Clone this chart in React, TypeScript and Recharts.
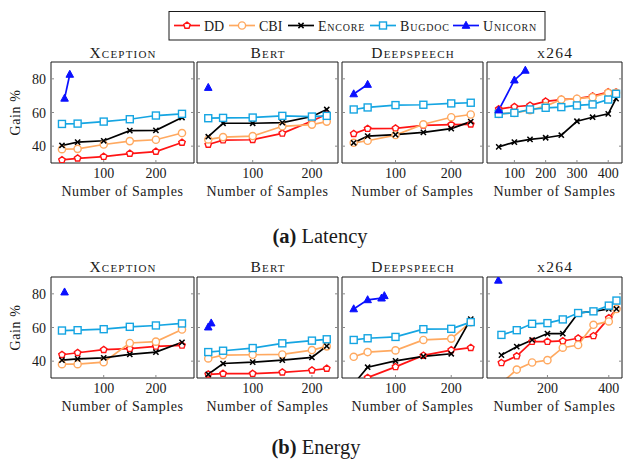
import { Label, Line, LineChart, XAxis, YAxis } from 'recharts';

const FONT = '"Liberation Serif", "Times New Roman", serif';
const INK = '#1a1a1a';
const TICK = '#8a8a8a';

// sample counts on the x axis, per subject system
const xceptionX = [20, 50, 100, 150, 200, 250];
const bertX = [25, 50, 100, 150, 200, 225];
const deepspeechX = [25, 50, 100, 150, 200, 235];
const x264X = [50, 100, 150, 200, 250, 300, 350, 400, 425];

// (a) latency gain %
const latXceptionDD = [31.8, 32.8, 33.8, 35.6, 36.8, 42.2];
const latXceptionCBI = [38.2, 38.4, 41, 43, 43.8, 47.8];
const latXceptionEncore = [40.4, 42.4, 43.2, 49.2, 49.4, 57];
const latXceptionBugdoc = [53.2, 53.4, 54.6, 56, 58.2, 59.2];
const latXceptionUnicornX = [25, 35];
const latXceptionUnicorn = [68.4, 82.6];

const latBertDD = [41, 43.6, 43.8, 47.6, 55, 59];
const latBertCBI = [44, 45.4, 46, 51.8, 52.8, 54.6];
const latBertEncore = [45.6, 53.6, 53.6, 54, 57.6, 61.8];
const latBertBugdoc = [56.6, 56.8, 57, 58, 57.6, 58];
const latBertUnicornX = [25];
const latBertUnicorn = [74.8];

const latDeepDD = [47.4, 50.4, 50.6, 52.4, 52.8, 53];
const latDeepCBI = [42, 43.2, 46.6, 53, 57.2, 58.8];
const latDeepEncore = [42, 46, 46.8, 48.2, 50.4, 54.6];
const latDeepBugdoc = [61.8, 63, 64.4, 64.6, 65.4, 65.8];
const latDeepUnicornX = [25, 50];
const latDeepUnicorn = [71, 76.6];

const latX264DD = [62, 63.4, 64.2, 66.6, 67.7, 68.2, 69.7, 72.1, 72];
const latX264CBI = [59.2, 59.8, 61.4, 63.8, 67.7, 68.2, 69.1, 71.7, 71.7];
const latX264Encore = [39.6, 42.4, 44, 45, 46.5, 54.8, 57.2, 59.2, 68.2];
const latX264Bugdoc = [59.2, 59.8, 61.8, 62.8, 63.2, 64.2, 64.8, 67.7, 71.1];
const latX264UnicornX = [50, 100, 135];
const latX264Unicorn = [61.4, 79.2, 85];

// (b) energy gain %
const enXceptionDD = [43.8, 45, 46.8, 47.4, 48.8, 49.4];
const enXceptionCBI = [38.2, 38.2, 39.4, 50.8, 51.6, 58.8];
const enXceptionEncore = [40.6, 41.4, 42, 44, 45.4, 51.2];
const enXceptionBugdoc = [58.2, 58.4, 59, 60.4, 61.2, 62.4];
const enXceptionUnicornX = [25];
const enXceptionUnicorn = [81];

const enBertDD = [32.2, 32.6, 32.6, 33.4, 34.6, 35.6];
const enBertCBI = [41.6, 43.6, 43.8, 44, 46.6, 48.8];
const enBertEncore = [32.2, 38.6, 39.4, 40.6, 42.2, 49];
const enBertBugdoc = [45.4, 46.2, 47.8, 50.6, 52.2, 53];
const enBertUnicornX = [25, 30];
const enBertUnicorn = [60.2, 62.6];

const enDeepDD = [null, 30.2, 36.6, 43.4, 46.6, 48];
const enDeepCBI = [42.6, 45.4, 46.4, 52.6, 53.4, 63.2];
const enDeepEncore = [26.5, 36.4, 40.2, 42.8, 44.4, 65];
const enDeepBugdoc = [52.6, 53.6, 54.4, 59, 59.2, 63.2];
const enDeepUnicornX = [25, 50, 75, 80];
const enDeepUnicorn = [71, 76.4, 77.4, 78.8];

const enX264DD = [39, 43, 51.6, 51.6, 52, 53.6, 55, 65.6, 71];
const enX264CBI = [27, 35, 39.2, 40.6, 48, 49.6, 61.6, 63.6, 71];
const enX264Encore = [43.6, 48.6, 52.6, 56.4, 56.4, 68.6, 69.6, 71, 71];
const enX264Bugdoc = [55.6, 58.4, 62.2, 62.6, 64.8, 68.6, 69.6, 73, 76];
const enX264UnicornX = [40];
const enX264Unicorn = [88];

const yTicks = [40, 60, 80];

const SERIES = [
  { name: 'DD', caps: false, kind: 'pentagon', color: '#ff1414' },
  { name: 'CBI', caps: false, kind: 'circle', color: '#ffa960' },
  { name: 'Encore', caps: true, kind: 'cross', color: '#000000' },
  { name: 'Bugdoc', caps: true, kind: 'square', color: '#15a5e2' },
  { name: 'Unicorn', caps: true, kind: 'triangle', color: '#0a10ff' },
];

const COLS = [
  { left: 51, width: 143 },
  { left: 197, width: 141 },
  { left: 342, width: 141 },
  { left: 487, width: 135 },
];
const ROW_TOP = [62, 277];
const PLOT_H = 101;
const TH = 2;
const RW = 2;
const XH = 40;

const zip = (xs: number[], ys: (number | null)[]) =>
  xs.map((x, i) => ({ x, y: ys[i] })).filter((d) => d.y != null);

const panels = [
  { row: 0, col: 0, title: 'Xception', domain: [-1, 273], ticks: [100, 200], xs: xceptionX,
    values: [latXceptionDD, latXceptionCBI, latXceptionEncore, latXceptionBugdoc], uniX: latXceptionUnicornX, uni: latXceptionUnicorn },
  { row: 0, col: 1, title: 'Bert', domain: [6, 244], ticks: [100, 200], xs: bertX,
    values: [latBertDD, latBertCBI, latBertEncore, latBertBugdoc], uniX: latBertUnicornX, uni: latBertUnicorn },
  { row: 0, col: 2, title: 'Deepspeech', domain: [4, 257], ticks: [100, 200], xs: deepspeechX,
    values: [latDeepDD, latDeepCBI, latDeepEncore, latDeepBugdoc], uniX: latDeepUnicornX, uni: latDeepUnicorn },
  { row: 0, col: 3, title: 'x264', domain: [12.5, 444], ticks: [100, 200, 300, 400], xs: x264X,
    values: [latX264DD, latX264CBI, latX264Encore, latX264Bugdoc], uniX: latX264UnicornX, uni: latX264Unicorn },
  { row: 1, col: 0, title: 'Xception', domain: [-1, 273], ticks: [100, 200], xs: xceptionX,
    values: [enXceptionDD, enXceptionCBI, enXceptionEncore, enXceptionBugdoc], uniX: enXceptionUnicornX, uni: enXceptionUnicorn },
  { row: 1, col: 1, title: 'Bert', domain: [6, 244], ticks: [100, 200], xs: bertX,
    values: [enBertDD, enBertCBI, enBertEncore, enBertBugdoc], uniX: enBertUnicornX, uni: enBertUnicorn },
  { row: 1, col: 2, title: 'Deepspeech', domain: [4, 257], ticks: [100, 200], xs: deepspeechX,
    values: [enDeepDD, enDeepCBI, enDeepEncore, enDeepBugdoc], uniX: enDeepUnicornX, uni: enDeepUnicorn },
  { row: 1, col: 3, title: 'x264', domain: [3, 443], ticks: [200, 400], xs: x264X,
    values: [enX264DD, enX264CBI, enX264Encore, enX264Bugdoc], uniX: enX264UnicornX, uni: enX264Unicorn },
];

function Marker({ kind, color, x, y }: { kind: string; color: string; x: number; y: number }) {
  if (kind === 'pentagon') {
    const r = 3.4;
    const pts = [0, 1, 2, 3, 4]
      .map((k) => {
        const a = -Math.PI / 2 + (k * 2 * Math.PI) / 5;
        return `${x + r * Math.cos(a)},${y + r * Math.sin(a)}`;
      })
      .join(' ');
    return <polygon points={pts} fill="#fff" stroke={color} strokeWidth={1.4} />;
  }
  if (kind === 'circle') return <circle cx={x} cy={y} r={3.6} fill="#fff" stroke={color} strokeWidth={1.4} />;
  if (kind === 'square')
    return <rect x={x - 3.5} y={y - 3.5} width={7} height={7} fill="#fff" stroke={color} strokeWidth={1.4} />;
  if (kind === 'triangle')
    return <polygon points={`${x},${y - 4.2} ${x - 3.8},${y + 2.8} ${x + 3.8},${y + 2.8}`} fill={color} stroke={color} strokeWidth={1} />;
  return (
    <g stroke={color} strokeWidth={1.5}>
      <line x1={x - 2.6} y1={y - 2.6} x2={x + 2.6} y2={y + 2.6} />
      <line x1={x - 2.6} y1={y + 2.6} x2={x + 2.6} y2={y - 2.6} />
    </g>
  );
}

const makeDot = (kind: string, color: string) => (props: any) => {
  const { cx, cy, index } = props;
  if (cx == null || cy == null) return <g key={index} />;
  return (
    <g key={index}>
      <Marker kind={kind} color={color} x={cx} y={cy} />
    </g>
  );
};

const XTick = (props: any) => (
  <text x={props.x} y={props.y + 10} textAnchor="middle" fontSize={14} fontFamily={FONT} fill={INK}>
    {props.payload.value}
  </text>
);
const YTick = (props: any) => (
  <text x={props.x} y={props.y + 5} textAnchor="end" fontSize={14} fontFamily={FONT} fill={INK}>
    {props.payload.value}
  </text>
);
const NoTick = () => <g />;

const xLabel = (props: any) => {
  const { x, y, width, height } = props.viewBox;
  return (
    <text x={x + width / 2} y={y + height - 7} textAnchor="middle" fontSize={14} fontFamily={FONT} fill={INK} letterSpacing={0.6}>
      Number of Samples
    </text>
  );
};
const yLabel = (props: any) => {
  const { x, y, width, height } = props.viewBox;
  const cx = x + width / 2;
  const cy = y + height / 2;
  return (
    <text
      x={cx}
      y={cy}
      dy={5}
      transform={`rotate(-90, ${cx}, ${cy})`}
      textAnchor="middle"
      fontSize={14}
      fontFamily={FONT}
      fill={INK}
      letterSpacing={0.6}
    >
      Gain %
    </text>
  );
};

function Panel({ p }: { p: (typeof panels)[number] }) {
  const col = COLS[p.col];
  const yw = p.col === 0 ? 72 : 2;
  const width = yw + col.width + RW;
  const height = TH + PLOT_H + XH;
  const lines = [...p.values.map((v) => zip(p.xs, v)), zip(p.uniX, p.uni)];

  return (
    <div style={{ position: 'absolute', left: col.left - yw, top: ROW_TOP[p.row] - TH }}>
      <LineChart width={width} height={height} margin={{ top: 0, right: 0, bottom: 0, left: 0 }}>
        <XAxis
          xAxisId="b"
          type="number"
          dataKey="x"
          domain={p.domain}
          ticks={p.ticks}
          interval={0}
          allowDataOverflow
          height={XH}
          tickSize={-3}
          tickMargin={7.5}
          axisLine={{ stroke: INK }}
          tickLine={{ stroke: TICK }}
          tick={XTick}
        >
          <Label content={xLabel} />
        </XAxis>
        <XAxis
          xAxisId="t"
          orientation="top"
          type="number"
          domain={p.domain}
          ticks={p.ticks}
          interval={0}
          allowDataOverflow
          height={TH}
          tickSize={-3}
          tick={NoTick}
          axisLine={{ stroke: INK }}
          tickLine={{ stroke: TICK }}
        />
        <YAxis
          yAxisId="l"
          type="number"
          domain={[30, 90]}
          ticks={yTicks}
          interval={0}
          allowDataOverflow
          width={yw}
          tickSize={-3}
          tickMargin={8}
          axisLine={{ stroke: INK }}
          tickLine={{ stroke: TICK }}
          tick={p.col === 0 ? YTick : NoTick}
        >
          {p.col === 0 && <Label content={yLabel} />}
        </YAxis>
        <YAxis
          yAxisId="r"
          orientation="right"
          type="number"
          domain={[30, 90]}
          ticks={yTicks}
          interval={0}
          allowDataOverflow
          width={RW}
          tickSize={-3}
          tick={NoTick}
          axisLine={{ stroke: INK }}
          tickLine={{ stroke: TICK }}
        />
        {lines.map((data, i) => (
          <Line
            key={SERIES[i].name}
            xAxisId="b"
            yAxisId="l"
            data={data}
            dataKey="y"
            stroke={SERIES[i].color}
            strokeWidth={1.7}
            dot={makeDot(SERIES[i].kind, SERIES[i].color)}
            activeDot={false}
            isAnimationActive={false}
          />
        ))}
      </LineChart>
    </div>
  );
}

const LEGEND_X = [174, 229, 288, 370, 453];

export default function App() {
  return (
    <div
      style={{
        position: 'absolute',
        left: 0,
        top: 0,
        width: 624,
        height: 465,
        overflow: 'hidden',
        background: '#fff',
        fontFamily: FONT,
      }}
    >
      {panels.map((p) => (
        <Panel key={`${p.row}-${p.col}`} p={p} />
      ))}
      <svg
        width={624}
        height={465}
        style={{ position: 'absolute', left: 0, top: 0, pointerEvents: 'none' }}
        fontFamily={FONT}
      >
        <rect x={169} y={11.5} width={376} height={28.5} fill="none" stroke={INK} strokeWidth={1} />
        {SERIES.map((s, i) => (
          <g key={s.name}>
            <line x1={LEGEND_X[i]} x2={LEGEND_X[i] + 26} y1={25.5} y2={25.5} stroke={s.color} strokeWidth={1.7} />
            <Marker kind={s.kind} color={s.color} x={LEGEND_X[i] + 13} y={25.5} />
            <text
              x={LEGEND_X[i] + 30}
              y={30.5}
              fontSize={14}
              fill={INK}
              letterSpacing={s.caps ? 0.8 : 0}
              style={{ fontVariant: s.caps ? 'small-caps' : 'normal' }}
            >
              {s.name}
            </text>
          </g>
        ))}
        {panels.map((p) => (
          <text
            key={`t-${p.row}-${p.col}`}
            x={COLS[p.col].left + COLS[p.col].width / 2 + 0.6}
            y={p.row === 0 ? 57.5 : 272}
            textAnchor="middle"
            fontSize={15.5}
            letterSpacing={1.2}
            fill={INK}
            style={{ fontVariant: 'small-caps' }}
          >
            {p.title}
          </text>
        ))}
        <text x={320} y={243} textAnchor="middle" fontSize={20.5} fill={INK}>
          <tspan fontWeight="bold">(a)</tspan> Latency
        </text>
        <text x={316} y={454} textAnchor="middle" fontSize={20.5} fill={INK}>
          <tspan fontWeight="bold">(b)</tspan> Energy
        </text>
      </svg>
    </div>
  );
}
